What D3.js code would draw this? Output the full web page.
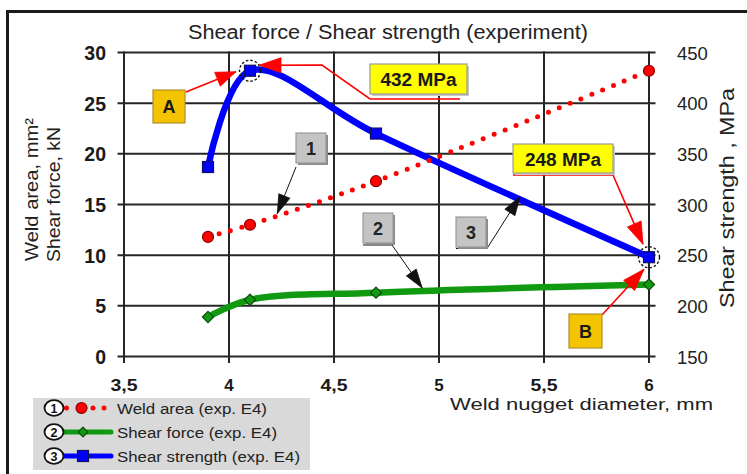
<!DOCTYPE html>
<html>
<head>
<meta charset="utf-8">
<script src="https://cdn.jsdelivr.net/npm/d3@7"></script>
<style>
  body { margin: 0; background: #fff; }
  svg { display: block; }
  text { font-family: "Liberation Sans", Arial, Helvetica, sans-serif; }
</style>
</head>
<body>
<svg id="chart" width="747" height="474"></svg>
<script>
// ---- data -------------------------------------------------------------
const diameters     = [3.9, 4.1, 4.7, 6.0];      // weld nugget diameter, mm
const weldArea      = [11.8, 13.0, 17.3, 28.2];  // mm²  (left axis)
const shearForce    = [3.9, 5.6, 6.3, 7.1];      // kN   (left axis)
const shearStrength = [337, 432, 370, 248];      // MPa  (right axis)

const xTicks     = [3.5, 4, 4.5, 5, 5.5, 6];
const leftTicks  = [0, 5, 10, 15, 20, 25, 30];
const rightTicks = [150, 200, 250, 300, 350, 400, 450];

const seriesNames = ["Weld area (exp. E4)", "Shear force (exp. E4)", "Shear strength (exp. E4)"];
const calloutNumbers = ["1", "2", "3"];
const highlighted = [1, 3];                       // strength points marked with dashed rings

// ---- colours ------------------------------------------------------------
const RED = "#ff0000", GREEN = "#119a11", BLUE = "#0000ff";
const GRID = "#262626";

// ---- frame & scales -----------------------------------------------------
const svg = d3.select("#chart");
const plot = { left: 124, right: 649, top: 52.5, bottom: 356.5 };

const x  = d3.scaleLinear().domain([3.5, 6]).range([plot.left, plot.right]);
const yL = d3.scaleLinear().domain([0, 30]).range([plot.bottom, plot.top]);
const yR = d3.scaleLinear().domain([150, 450]).range([plot.bottom, plot.top]);

svg.append("rect").attr("width", 747).attr("height", 474).attr("fill", "#fff");
// outer frame (runs off the right and bottom edges)
svg.append("rect").attr("x", 7.5).attr("y", 11.5).attr("width", 800).attr("height", 500)
  .attr("fill", "none").attr("stroke", "#1a1a1a").attr("stroke-width", 3);

function label(g, str, px, py, o = {}) {
  const t = g.append("text").attr("x", px).attr("y", py)
    .attr("font-size", o.size || 16)
    .attr("font-weight", o.bold ? "bold" : "normal")
    .attr("fill", o.fill || "#1a1a1a")
    .attr("text-anchor", o.anchor || "start")
    .text(str);
  if (o.len) t.attr("textLength", o.len).attr("lengthAdjust", "spacingAndGlyphs");
  if (o.rotate) t.attr("transform", `rotate(${o.rotate},${px},${py})`);
  return t;
}

// ---- grid ---------------------------------------------------------------
const grid = svg.append("g").attr("stroke", GRID).attr("stroke-width", 2);
grid.selectAll("line.v").data(xTicks).join("line").attr("class", "v")
  .attr("x1", d => x(d)).attr("x2", d => x(d))
  .attr("y1", plot.top - 1).attr("y2", plot.bottom + 6.5);
grid.selectAll("line.h").data(leftTicks).join("line").attr("class", "h")
  .attr("x1", plot.left - 6.5).attr("x2", plot.right + 6.5)
  .attr("y1", d => yL(d)).attr("y2", d => yL(d));

// ---- tick labels --------------------------------------------------------
const fmt = d => String(d).replace(".", ",");
const ticks = svg.append("g");
leftTicks.forEach(t => label(ticks, fmt(t), 106, yL(t) + 7.5, { size: 19.5, bold: true, anchor: "end" }));
rightTicks.forEach(t => label(ticks, fmt(t), 677, yR(t) + 7, { size: 18.5, fill: "#222" }));
xTicks.forEach(t => label(ticks, fmt(t), x(t), 390.5, { size: 17, bold: true, anchor: "middle", len: fmt(t).length > 1 ? 27 : null }));

// ---- titles -------------------------------------------------------------
label(svg, "Shear force / Shear strength (experiment)", 188, 39, { size: 19.5, len: 400, fill: "#222" });
label(svg, "Weld nugget diameter, mm", 450, 410, { size: 17, len: 263, fill: "#222" });
label(svg, "Weld area, mm²", 37.5, 261, { size: 19, len: 143, rotate: -90, fill: "#222" });
label(svg, "Shear force, kN", 60, 262, { size: 19, len: 135, rotate: -90, fill: "#222" });
label(svg, "Shear strength , MPa", 734, 198, { size: 19.5, len: 220, rotate: -90, anchor: "middle", fill: "#222" });

// ---- series lines -------------------------------------------------------
const curve = d3.curveCatmullRom.alpha(0.5);
const lineL = d3.line().x((d, i) => x(diameters[i])).y(d => yL(d)).curve(curve);
const lineR = d3.line().x((d, i) => x(diameters[i])).y(d => yR(d)).curve(curve);

const series = svg.append("g").attr("fill", "none");
series.append("path").attr("d", lineR(shearStrength))
  .attr("stroke", BLUE).attr("stroke-width", 6.5).attr("stroke-linejoin", "round");
series.append("path").attr("d", lineL(shearForce))
  .attr("stroke", GREEN).attr("stroke-width", 6.5).attr("stroke-linejoin", "round");
series.append("path").attr("d", lineL(weldArea))
  .attr("stroke", RED).attr("stroke-width", 5).attr("stroke-linecap", "round")
  .attr("stroke-dasharray", "0 11.7");

// ---- markers ------------------------------------------------------------
const marks = svg.append("g");
marks.selectAll("circle.area").data(weldArea).join("circle").attr("class", "area")
  .attr("cx", (d, i) => x(diameters[i])).attr("cy", d => yL(d)).attr("r", 5.5)
  .attr("fill", RED).attr("stroke", "#8a0000").attr("stroke-width", 1.2);
marks.selectAll("path.force").data(shearForce).join("path").attr("class", "force")
  .attr("d", d3.symbol(d3.symbolDiamond2, 80))
  .attr("transform", (d, i) => `translate(${x(diameters[i])},${yL(d)})`)
  .attr("fill", GREEN).attr("stroke", "#0a4d0a").attr("stroke-width", 1.2);
marks.selectAll("rect.strength").data(shearStrength).join("rect").attr("class", "strength")
  .attr("x", (d, i) => x(diameters[i]) - 5.5).attr("y", d => yR(d) - 5.5)
  .attr("width", 11).attr("height", 11)
  .attr("fill", BLUE).attr("stroke", "#101060").attr("stroke-width", 1.2);
marks.selectAll("circle.ring").data(highlighted).join("circle").attr("class", "ring")
  .attr("cx", i => x(diameters[i])).attr("cy", i => yR(shearStrength[i])).attr("r", 10.5)
  .attr("fill", "none").attr("stroke", "#111").attr("stroke-width", 1.4)
  .attr("stroke-dasharray", "2.5 2");

// ---- annotations --------------------------------------------------------
const ann = svg.append("g");

function arrow(pts, color, width, headLen, headW) {
  ann.append("path").attr("d", d3.line()(pts))
    .attr("fill", "none").attr("stroke", color).attr("stroke-width", width);
  const [ax, ay] = pts[pts.length - 2], [bx, by] = pts[pts.length - 1];
  const ang = Math.atan2(by - ay, bx - ax);
  const c = Math.cos(ang), s = Math.sin(ang);
  const bxp = bx - headLen * c, byp = by - headLen * s;
  ann.append("path")
    .attr("d", `M${bx},${by}L${bxp - headW / 2 * s},${byp + headW / 2 * c}L${bxp + headW / 2 * s},${byp - headW / 2 * c}Z`)
    .attr("fill", color).attr("stroke", color).attr("stroke-width", 0.8);
}

function box(x0, y0, w, h, fill, stroke, shadow) {
  if (shadow) ann.append("rect").attr("x", x0 + 2).attr("y", y0 + 2).attr("width", w).attr("height", h).attr("fill", shadow);
  ann.append("rect").attr("x", x0).attr("y", y0).attr("width", w).attr("height", h)
    .attr("fill", fill).attr("stroke", stroke).attr("stroke-width", 1.2);
}

const p1 = [x(diameters[1]), yR(shearStrength[1])];
const p3 = [x(diameters[3]), yR(shearStrength[3])];

// peak value callout
arrow([[460, 99], [370, 99], [322, 65], [p1[0] + 9, p1[1] - 5.5]], RED, 1.6, 22, 15);
box(370, 64, 97, 30, "#ffff00", "#9a9a9a", "#c8c8c8");
label(ann, shearStrength[1] + " MPa", 418.5, 86, { size: 18, bold: true, anchor: "middle", len: 76 });

// end value callout
arrow([[513, 175], [613, 175], [p3[0] - 6, p3[1] - 13]], RED, 1.6, 22, 15);
box(513, 144, 100, 29, "#ffff00", "#9a9a9a", "#c8c8c8");
label(ann, shearStrength[3] + " MPa", 563, 166, { size: 18, bold: true, anchor: "middle", len: 76 });

// A / B markers
arrow([[186, 92], [p1[0] - 14, p1[1] + 1]], RED, 1.6, 20, 15);
box(153, 90, 32, 33, "#f5c400", "#b09030", null);
label(ann, "A", 169, 113, { size: 18, bold: true, anchor: "middle" });

arrow([[602, 315], [p3[0] - 5, p3[1] + 12]], RED, 1.6, 22, 15);
box(569, 314, 33, 34, "#f5c400", "#b09030", null);
label(ann, "B", 585.5, 338, { size: 18, bold: true, anchor: "middle" });

// numbered series callouts
const callouts = [
  { box: [296, 133], path: [[296, 167], [x(4.23), yL(14.1)]] },
  { box: [363, 213], path: [[363, 245], [392, 245], [x(4.92), yL(6.76)]] },
  { box: [456, 217], path: [[456, 248.5], [487, 248.5], [x(5.386), yR(308)]] }
];
callouts.forEach((c, i) => {
  arrow(c.path, "#111", 1, 19, 12);
  box(c.box[0], c.box[1], 30, 30, "#c4c4c4", "#9a9a9a", "#8a8a8a");
  label(ann, calloutNumbers[i], c.box[0] + 15, c.box[1] + 22, { size: 18, bold: true, anchor: "middle", fill: "#222" });
});

// ---- legend -------------------------------------------------------------
const leg = svg.append("g");
leg.append("rect").attr("x", 33).attr("y", 398).attr("width", 277).attr("height", 72).attr("fill", "#d9d9d9");
const rowsY = [408, 432, 456];
rowsY.forEach((ry, i) => {
  if (i === 0) {
    [[66.5, 2.5], [93, 2.5], [104, 2.5]].forEach(([cx, r]) =>
      leg.append("circle").attr("cx", cx).attr("cy", ry).attr("r", r).attr("fill", RED));
    leg.append("circle").attr("cx", 81.5).attr("cy", ry).attr("r", 5.5)
      .attr("fill", RED).attr("stroke", "#8a0000").attr("stroke-width", 1.2);
  } else {
    const col = i === 1 ? GREEN : BLUE;
    leg.append("line").attr("x1", 62).attr("x2", 111).attr("y1", ry).attr("y2", ry)
      .attr("stroke", col).attr("stroke-width", 5).attr("stroke-linecap", "round");
    if (i === 1) {
      leg.append("path").attr("d", d3.symbol(d3.symbolDiamond2, 60))
        .attr("transform", `translate(83,${ry})`)
        .attr("fill", GREEN).attr("stroke", "#0a4d0a").attr("stroke-width", 1.2);
    } else {
      leg.append("rect").attr("x", 77.5).attr("y", ry - 5.5).attr("width", 11).attr("height", 11)
        .attr("fill", BLUE).attr("stroke", "#101060").attr("stroke-width", 1.2);
    }
  }
  leg.append("ellipse").attr("cx", 54).attr("cy", ry).attr("rx", 9.5).attr("ry", 7.8)
    .attr("fill", "#fff").attr("stroke", "#111").attr("stroke-width", 1.8);
  label(leg, calloutNumbers[i], 54, ry + 4.5, { size: 12.5, bold: true, anchor: "middle", fill: "#111" });
  label(leg, seriesNames[i], 117, ry + 5.5, { size: 15.5, len: [150, 160, 183][i], fill: "#222" });
});
</script>
</body>
</html>
